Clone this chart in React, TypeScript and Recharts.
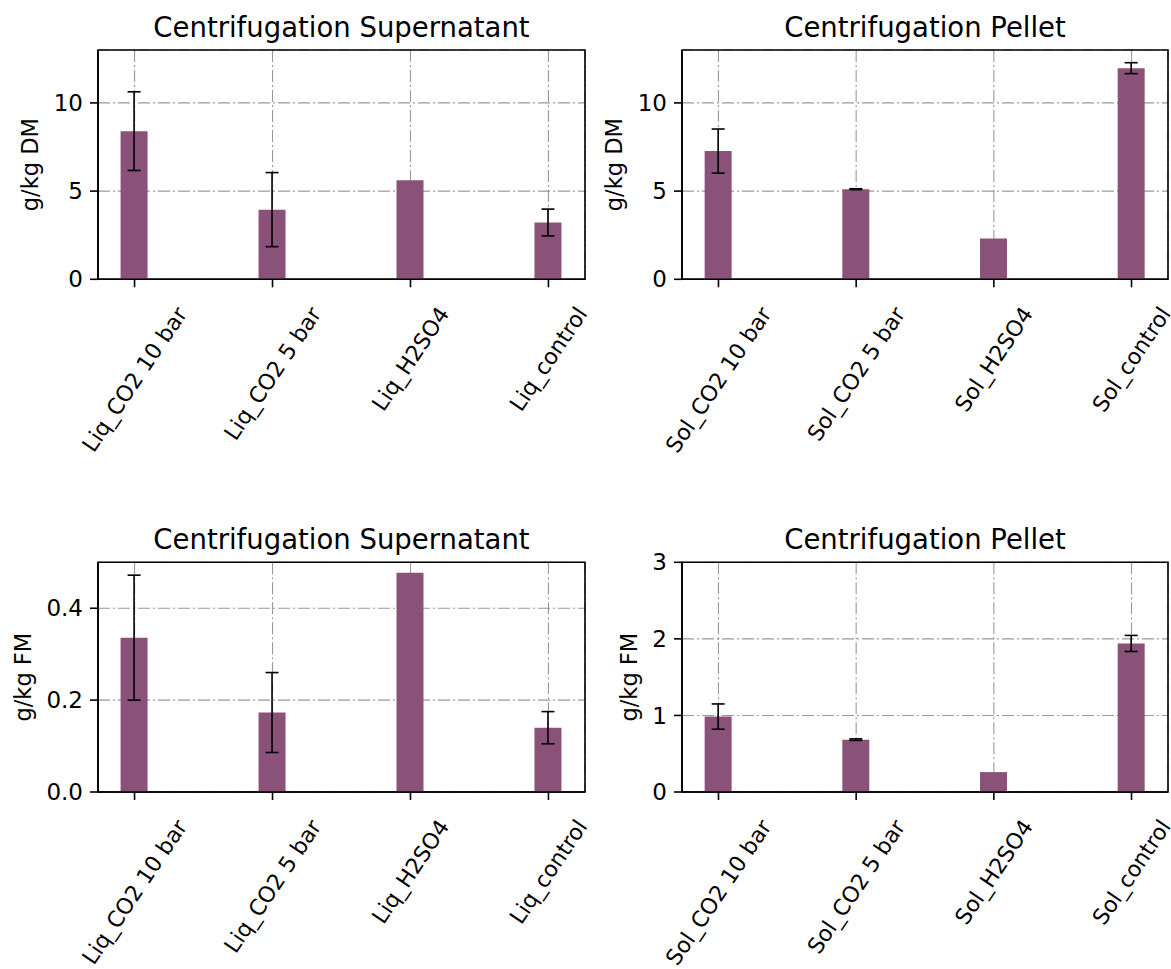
import React from "react";
import { BarChart, Bar, XAxis, YAxis, CartesianGrid, ErrorBar, ReferenceArea } from "recharts";

const LIQ_LABELS = ["Liq_CO2 10 bar", "Liq_CO2 5 bar", "Liq_H2SO4", "Liq_control"];
const SOL_LABELS = ["Sol_CO2 10 bar", "Sol_CO2 5 bar", "Sol_H2SO4", "Sol_control"];

const SUP_DM = [8.4, 3.95, 5.62, 3.22];
const SUP_DM_ERR = [2.23, 2.1, null, 0.76];
const PEL_DM = [7.27, 5.11, 2.32, 11.97];
const PEL_DM_ERR = [1.25, 0.025, null, 0.31];
const SUP_FM = [0.336, 0.173, 0.477, 0.14];
const SUP_FM_ERR = [0.136, 0.087, null, 0.035];
const PEL_FM = [0.985, 0.684, 0.26, 1.94];
const PEL_FM_ERR = [0.165, 0.01, null, 0.105];

const DM_TICKS = [0, 5, 10];
const SUP_FM_TICKS = [0, 0.2, 0.4];
const PEL_FM_TICKS = [0, 1, 2, 3];
const X_TICKS = [0, 1, 2, 3];

const FONT = '"DejaVu Sans", Verdana, sans-serif';
const BAR_COLOR = "#8b5279";
const TICK_FS = 23;
const XLABEL_FS = 22;
const LABEL_FS = 22.5;
const TITLE_FS = 27.5;
const ANGLE = 56;
const XMIN = -0.265;
const XMAX = 3.265;
const YW = 50;
const XH = 180;

let ctx: CanvasRenderingContext2D | null = null;
function textWidth(s: string, size: number) {
  if (!ctx) ctx = document.createElement("canvas").getContext("2d");
  if (!ctx) return s.length * size * 0.58;
  ctx.font = `${size}px "DejaVu Sans"`;
  return ctx.measureText(s).width;
}

// rotated x label, bbox centred on the tick like matplotlib ha="center"
function RotTick(props: any) {
  const { x, y, payload, labels } = props;
  const s = labels[payload.value] ?? "";
  const w = textWidth(s, XLABEL_FS);
  const a = (ANGLE * Math.PI) / 180;
  const h = XLABEL_FS * 1.164;
  const bh = w * Math.sin(a) + h * Math.cos(a);
  return (
    <g transform={`translate(${x},${y + bh / 2}) rotate(${-ANGLE})`}>
      <text x={0} y={XLABEL_FS * 0.346} textAnchor="middle" fontSize={XLABEL_FS} fontFamily={FONT} fill="#000">
        {s}
      </text>
    </g>
  );
}

type PanelProps = {
  left: number;
  top: number;
  width: number;
  height: number;
  box: [number, number, number, number]; // plot left, right, top, bottom (page px)
  title: string;
  titleY: number;
  yLabel: string;
  yLabelX: number;
  labels: string[];
  values: number[];
  errors: (number | null)[];
  yMax: number;
  yTicks: number[];
  fmt: (v: number) => string;
};

function Panel(p: PanelProps) {
  const [pl, pr, pt, pb] = p.box;
  const data = p.labels.map((name, i) => ({ pos: i, name, value: p.values[i], err: p.errors[i] }));
  const margin = {
    top: pt - p.top,
    left: pl - p.left - YW,
    right: p.left + p.width - pr,
    bottom: p.top + p.height - pb - XH,
  };
  const cx = (pl + pr) / 2 - p.left;
  const cy = (pt + pb) / 2 - p.top;
  return (
    <div style={{ position: "absolute", left: p.left, top: p.top, width: p.width, height: p.height }}>
      <BarChart width={p.width} height={p.height} data={data} margin={margin}>
        <XAxis
          type="number"
          dataKey="pos"
          domain={[XMIN, XMAX]}
          ticks={X_TICKS}
          interval={0}
          allowDataOverflow
          height={XH}
          tickSize={8}
          tickMargin={15}
          axisLine={{ stroke: "#000", strokeWidth: 1.6 }}
          tickLine={{ stroke: "#000", strokeWidth: 1.6 }}
          tick={(tp: any) => <RotTick {...tp} labels={p.labels} />}
        />
        <YAxis
          type="number"
          domain={[0, p.yMax]}
          ticks={p.yTicks}
          interval={0}
          allowDataOverflow
          width={YW}
          tickSize={8}
          tickMargin={7}
          tickFormatter={p.fmt}
          axisLine={{ stroke: "#000", strokeWidth: 1.6 }}
          tickLine={{ stroke: "#000", strokeWidth: 1.6 }}
          tick={{ fill: "#000", fontSize: TICK_FS, fontFamily: FONT }}
        />
        <Bar dataKey="value" fill={BAR_COLOR} barSize={27} isAnimationActive={false}>
          <ErrorBar dataKey="err" width={6.5} stroke="#000" strokeWidth={1.6} direction="y" />
        </Bar>
        <CartesianGrid stroke="#808080" strokeWidth={1.1} strokeDasharray="12 3 2 3" strokeOpacity={0.8} />
        <ReferenceArea x1={XMIN} x2={XMAX} y1={0} y2={p.yMax} fill="none" fillOpacity={0} stroke="#000" strokeWidth={1.6} />
        <text x={cx} y={p.titleY - p.top} textAnchor="middle" fontSize={TITLE_FS} fontFamily={FONT} fill="#000">
          {p.title}
        </text>
        <text
          transform={`translate(${p.yLabelX - p.left},${cy}) rotate(-90)`}
          textAnchor="middle"
          fontSize={LABEL_FS}
          fontFamily={FONT}
          fill="#000"
        >
          {p.yLabel}
        </text>
      </BarChart>
    </div>
  );
}

const fmtInt = (v: number) => String(v);
const fmt1 = (v: number) => v.toFixed(1);

export default function App() {
  return (
    <div style={{ position: "absolute", left: 0, top: 0, width: 1171, height: 969, overflow: "hidden", background: "#fff" }}>
      <Panel
        left={0}
        top={0}
        width={610}
        height={490}
        box={[98, 585, 50, 279.3]}
        title="Centrifugation Supernatant"
        titleY={37}
        yLabel="g/kg DM"
        yLabelX={38}
        labels={LIQ_LABELS}
        values={SUP_DM}
        errors={SUP_DM_ERR}
        yMax={13}
        yTicks={DM_TICKS}
        fmt={fmtInt}
      />
      <Panel
        left={590}
        top={0}
        width={581}
        height={490}
        box={[682, 1168, 50, 279.3]}
        title="Centrifugation Pellet"
        titleY={37}
        yLabel="g/kg DM"
        yLabelX={622}
        labels={SOL_LABELS}
        values={PEL_DM}
        errors={PEL_DM_ERR}
        yMax={13}
        yTicks={DM_TICKS}
        fmt={fmtInt}
      />
      <Panel
        left={0}
        top={490}
        width={610}
        height={479}
        box={[98, 585, 562.3, 792]}
        title="Centrifugation Supernatant"
        titleY={549}
        yLabel="g/kg FM"
        yLabelX={31}
        labels={LIQ_LABELS}
        values={SUP_FM}
        errors={SUP_FM_ERR}
        yMax={0.5}
        yTicks={SUP_FM_TICKS}
        fmt={fmt1}
      />
      <Panel
        left={590}
        top={490}
        width={581}
        height={479}
        box={[682, 1168, 562.3, 792]}
        title="Centrifugation Pellet"
        titleY={549}
        yLabel="g/kg FM"
        yLabelX={637}
        labels={SOL_LABELS}
        values={PEL_FM}
        errors={PEL_FM_ERR}
        yMax={3}
        yTicks={PEL_FM_TICKS}
        fmt={fmtInt}
      />
    </div>
  );
}
